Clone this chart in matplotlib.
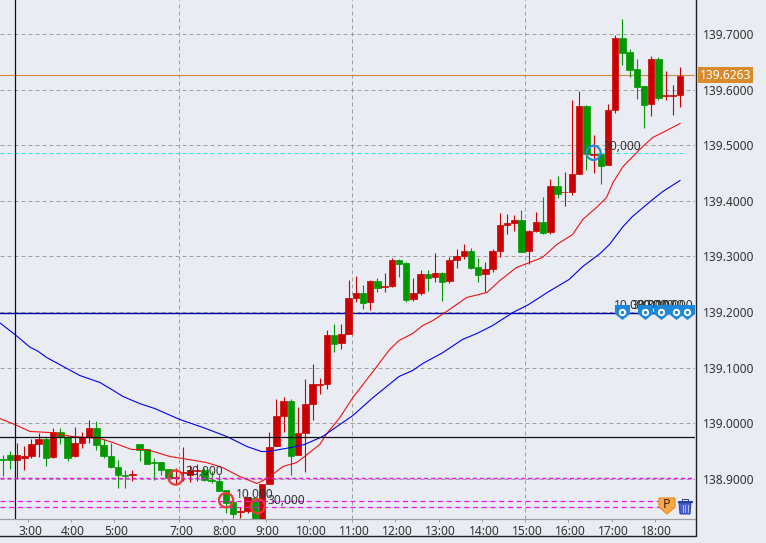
import numpy as np
import matplotlib
matplotlib.use('Agg')
import matplotlib.pyplot as plt
from matplotlib.path import Path
from matplotlib.patches import Polygon, Rectangle
from matplotlib.transforms import ScaledTranslation

plt.rcParams['font.family'] = ['Noto Sans', 'DejaVu Sans']

# 10 minute candles
opens = [138.9355, 138.9433, 138.9343, 138.9367, 138.9415, 138.9632, 138.9716, 138.9391, 138.9843, 138.9753,
         138.9403, 138.9644, 138.9753, 138.9921, 138.9614, 138.9415, 138.9217, 138.9072, 138.9066, 138.9632,
         138.9536, 138.9295, 138.9295, 138.9169, 138.9006, 138.9105, 138.9072, 138.9138, 138.9151, 138.8982,
         138.8964, 138.8801, 138.8579, 138.8404, 138.8428, 138.8651, 138.8278, 138.8910, 138.9583, 139.0122,
         139.0391, 138.9421, 138.9816, 139.0337, 139.0685, 139.0697, 139.1595, 139.1451, 139.1613, 139.2260,
         139.2350, 139.2188, 139.2565, 139.2458, 139.2476, 139.2943, 139.2889, 139.2242, 139.2350, 139.2691,
         139.2637, 139.2709, 139.2565, 139.2943, 139.3015, 139.3105, 139.2817, 139.2691, 139.2781, 139.3105,
         139.3572, 139.3608, 139.3662, 139.3105, 139.3460, 139.3622, 139.3442, 139.4270, 139.4150, 139.4162,
         139.4486, 139.5710, 139.4828, 139.4846, 139.4648, 139.5638, 139.6934, 139.6682, 139.6376, 139.6070,
         139.5746, 139.6556, 139.5878, 139.5890, 139.5908]
highs = [138.9433, 138.9494, 138.9644, 138.9584, 138.9716, 138.9825, 138.9753, 138.9915, 138.9915, 138.9795,
         138.9933, 138.9843, 139.0066, 139.0048, 138.9716, 138.9644, 138.9343, 138.9163, 138.9151, 138.9632,
         138.9536, 138.9373, 138.9295, 138.9169, 138.9193, 138.9566, 138.9253, 138.9271, 138.9193, 138.9132,
         138.9072, 138.8801, 138.8591, 138.8488, 138.8669, 138.8651, 138.8910, 138.9843, 139.0427, 139.0463,
         139.0427, 139.0283, 139.0804, 139.1056, 139.0822, 139.1685, 139.1793, 139.1793, 139.2583, 139.2655,
         139.2494, 139.2583, 139.2619, 139.2709, 139.2979, 139.2961, 139.2907, 139.2619, 139.2763, 139.2763,
         139.3069, 139.2727, 139.2997, 139.3141, 139.3230, 139.3158, 139.2979, 139.2907, 139.3141, 139.3787,
         139.3769, 139.3751, 139.3841, 139.3482, 139.3802, 139.4072, 139.4396, 139.4450, 139.4522, 139.5818,
         139.5980, 139.5728, 139.5188, 139.4846, 139.5746, 139.6988, 139.7276, 139.6736, 139.6556, 139.6070,
         139.6610, 139.6592, 139.6340, 139.6088, 139.6412]
lows = [138.9042, 138.9181, 138.9012, 138.9163, 138.9373, 138.9391, 138.9235, 138.9373, 138.9632, 138.9313,
        138.9391, 138.9554, 138.9644, 138.9512, 138.9373, 138.9193, 138.8843, 138.8831, 138.8958, 138.9325,
        138.9271, 138.8982, 138.9072, 138.9006, 138.8892, 138.8952, 138.8940, 138.8964, 138.8964, 138.8922,
        138.8789, 138.8380, 138.8290, 138.8290, 138.8380, 138.8278, 138.8278, 138.8910, 138.9583, 138.9834,
        138.9061, 138.9421, 138.9115, 139.0050, 139.0517, 139.0607, 139.1272, 139.1343, 139.1613, 139.2188,
        139.2062, 139.2044, 139.2368, 139.2368, 139.2458, 139.2637, 139.2188, 139.2206, 139.2314, 139.2386,
        139.2547, 139.2206, 139.2529, 139.2799, 139.2961, 139.2781, 139.2547, 139.2368, 139.2727, 139.2997,
        139.3410, 139.3464, 139.3087, 139.2871, 139.3442, 139.3406, 139.3406, 139.4054, 139.3910, 139.4108,
        139.4486, 139.4558, 139.4504, 139.4306, 139.4648, 139.5584, 139.6448, 139.6232, 139.5836, 139.5314,
        139.5530, 139.5818, 139.5818, 139.5548, 139.5692]
closes = [138.9343, 138.9343, 138.9433, 138.9415, 138.9632, 138.9716, 138.9367, 138.9843, 138.9753, 138.9379,
          138.9644, 138.9746, 138.9921, 138.9602, 138.9403, 138.9205, 138.9060, 138.9042, 138.9090, 138.9512,
          138.9271, 138.9277, 138.9163, 138.9006, 138.9030, 138.9115, 138.9163, 138.9163, 138.8982, 138.8952,
          138.8789, 138.8573, 138.8368, 138.8428, 138.8669, 138.8290, 138.8910, 138.9578, 139.0122, 139.0391,
          138.9403, 138.9816, 139.0337, 139.0697, 139.0697, 139.1595, 139.1433, 139.1613, 139.2260, 139.2350,
          139.2170, 139.2565, 139.2440, 139.2476, 139.2943, 139.2871, 139.2224, 139.2350, 139.2691, 139.2619,
          139.2709, 139.2547, 139.2943, 139.3015, 139.3105, 139.2799, 139.2673, 139.2781, 139.3105, 139.3572,
          139.3608, 139.3662, 139.3087, 139.3464, 139.3622, 139.3424, 139.4270, 139.4126, 139.4162, 139.4486,
          139.5710, 139.4846, 139.4846, 139.4630, 139.5638, 139.6934, 139.6664, 139.6358, 139.6052, 139.5728,
          139.6556, 139.5854, 139.5902, 139.5908, 139.6250]

# moving averages, read at these candle positions
fast_idx = [-0.4, 1.7, 3.8, 6.5, 9.6, 13.5, 15.3, 17.9, 20, 23.2, 25, 28.3, 30.5, 32.9, 35.3, 36.9, 38.9, 40.8,
            42.6, 44, 45.1, 46.8, 48.6, 51.4, 53.7, 55, 56.9, 58.3, 59.7, 61.6, 64.4, 67.2, 69, 71.3, 74.9, 76.9,
            79.1, 80.5, 82.4, 83.8, 84.7, 86.1, 88.4, 90.2, 91.6, 94]
fast_ma = [139.0084, 138.9976, 138.9851, 138.9833, 138.9761, 138.9725, 138.9653, 138.9527, 138.9527, 138.9401,
           138.9365, 138.9293, 138.9203, 138.9041, 138.8915, 138.9023, 138.9221, 138.9293, 138.9473, 138.9617,
           138.9833, 139.0102, 139.0462, 139.0930, 139.1325, 139.1487, 139.1613, 139.1757, 139.1847, 139.2009,
           139.2261, 139.2351, 139.2566, 139.2800, 139.2980, 139.3214, 139.3394, 139.3664, 139.3879, 139.4059,
           139.4329, 139.4617, 139.4923, 139.5138, 139.5228, 139.5390]
slow_idx = [-0.4, 1.7, 3.8, 4.9, 6.1, 7.9, 10.7, 13.5, 15.3, 16.7, 19, 21.1, 24.6, 27.8, 31.1, 33.9, 35.9, 36.9, 40,
            41.9, 44.4, 47.2, 48.6, 51.4, 55, 56.9, 58.3, 61.1, 63.8, 65.8, 68, 70.8, 73, 75.8, 78.6, 80.5, 82.9,
            84.2, 86.1, 87.4, 90.2, 91.6, 94]
slow_ma = [139.1806, 139.1595, 139.1367, 139.1295, 139.1182, 139.1056, 139.0858, 139.0732, 139.0593, 139.0480,
           139.0354, 139.0264, 139.0066, 138.9923, 138.9761, 138.9581, 138.9491, 138.9491, 138.9563, 138.9617,
           138.9761, 139.0013, 139.0138, 139.0462, 139.0840, 139.0948, 139.1074, 139.1271, 139.1505, 139.1613,
           139.1757, 139.1991, 139.2135, 139.2369, 139.2584, 139.2818, 139.3052, 139.3214, 139.3538, 139.3718,
           139.4023, 139.4167, 139.4365]

# axis labels
price_ticks = [138.9, 139.0, 139.1, 139.2, 139.3, 139.4, 139.5, 139.6, 139.7]
time_pos = [3.5, 9.5, 15.5, 24.5, 30.5, 36.5, 42.5, 48.5, 54.5, 60.5, 66.5, 72.5, 78.5, 84.5, 90.5]
time_labels = ['3:00', '4:00', '5:00', '7:00', '8:00', '9:00', '10:00', '11:00', '12:00', '13:00', '14:00',
               '15:00', '16:00', '17:00', '18:00']
grid_x = [24.5, 48.5, 72.5]

# executions and order pins
buy_idx = [24, 31, 35.4]
buy_price = [138.9023, 138.8615, 138.8507]
buy_label = ['30,000', '10,000', '30,000']
sell_idx = [82]
sell_price = [139.4863]
sell_label = ['30,000']
pin_idx = [86, 89.1, 91.3, 93.5, 95]
pin_price = [139.2, 139.2, 139.2, 139.2, 139.2]
pin_label = ['10,000', '30,000', '30,000', '30,000', '10,000']
pin_shift = [-8, -13, -24, -30, -31]

current_price = 139.6263
order_level = 139.1985
cross_price = 138.975
sell_level = 139.4863
stop_levels = [138.9007, 138.8598, 138.8490]

BG = '#E9ECF3'
RED = '#CC0000'
GREEN = '#009900'
GRID = '#A0A0A0'
TXT = '#333333'
W, H = 766, 543

fig = plt.figure(figsize=(W / 100, H / 100), dpi=100, facecolor=BG)
ax = fig.add_axes([0, (H - 519) / H, 695 / W, 519 / H], facecolor=BG)
ax.set_xlim(-0.37, 96.08)
ax.set_ylim(138.8277, 139.7612)

idx = np.arange(len(opens))
o = np.array(opens)
c = np.array(closes)
colors = [RED if b >= a else GREEN for a, b in zip(opens, closes)]

for v in price_ticks:
    ax.axhline(v, color=GRID, lw=0.72, ls=(0, (4, 3)), zorder=1)
for v in grid_x:
    ax.axvline(v, color=GRID, lw=0.72, ls=(0, (4, 3)), zorder=1)

ax.plot([-0.37, 94.7], [sell_level, sell_level], color='#20E8E8', lw=0.72, ls=(0, (4, 3)), zorder=1.5)
ax.axhline(current_price, color='#CE8A3A', lw=0.8, zorder=1.5)
ax.axhline(order_level, color='#0000A8', lw=1.0, zorder=1.5)

ax.vlines(idx, lows, highs, colors=colors, lw=0.8, zorder=3)
ax.bar(idx, np.abs(c - o), bottom=np.minimum(o, c), width=0.9, color=colors, edgecolor=colors, lw=0.5, zorder=3)

ax.plot(fast_idx, fast_ma, color='#F01010', lw=0.8, zorder=4)
ax.plot(slow_idx, slow_ma, color='#0000F0', lw=0.8, zorder=4)

ax.axhline(cross_price, color='#111111', lw=0.9, zorder=5)
ax.axvline(1.67, color='#111111', lw=0.9, zorder=5)
ax.plot([-0.37, 91.5], [stop_levels[1], stop_levels[1]], color='#F010F0', lw=0.9, ls=(0, (4, 3)), zorder=5)
ax.plot([-0.37, 91.5], [stop_levels[2], stop_levels[2]], color='#F010F0', lw=0.9, ls=(0, (4, 3)), zorder=5)
ax.plot([-0.37, 96.08], [stop_levels[0], stop_levels[0]], color='#F010F0', lw=1.0, ls=(0, (3, 2)), zorder=5)

ax.scatter(buy_idx, buy_price, s=105, facecolors='none', edgecolors='#F03838', linewidths=1.6, zorder=6)
ax.scatter(sell_idx, sell_price, s=105, facecolors='none', edgecolors='#2288E0', linewidths=1.6, zorder=6)
for x, p, t in zip(buy_idx + sell_idx, buy_price + sell_price, buy_label + sell_label):
    ax.annotate(t, (x, p), xytext=(10, 6), textcoords='offset pixels', fontsize=8.64, color=TXT,
                va='center', ha='left', zorder=7)

pin = Path([(-1, 1), (1, 1), (1, -0.2), (0, -1), (-1, -0.2), (-1, 1)], closed=True)
ax.scatter(pin_idx, pin_price, marker=pin, s=117, color='#1E88D8', linewidths=0, zorder=7, clip_on=False)
ax.scatter(pin_idx, pin_price, s=28, color='white', linewidths=0, zorder=8, clip_on=False)
ax.scatter(pin_idx, pin_price, s=6, color='#1E88D8', linewidths=0, zorder=9, clip_on=False)
for x, p, t, d in zip(pin_idx, pin_price, pin_label, pin_shift):
    ax.annotate(t, (x, p), xytext=(d, 7), textcoords='offset pixels', fontsize=8.64, color=TXT,
                va='center', ha='left', zorder=6.5, annotation_clip=False)

ax.yaxis.tick_right()
ax.set_yticks(price_ticks, [f'{v:.4f}' for v in price_ticks])
ax.set_xticks(time_pos, time_labels)
ax.tick_params(axis='y', length=0, pad=5.8, labelsize=8.64, labelcolor=TXT)
ax.tick_params(axis='x', length=2, width=0.72, color=GRID, pad=2.4, labelsize=8.64, labelcolor=TXT)
for lb in ax.get_xticklabels():
    lb.set_transform(lb.get_transform() + ScaledTranslation(2 / 100, 0, fig.dpi_scale_trans))
for s in ['top', 'left', 'right']:
    ax.spines[s].set_visible(False)
ax.spines['bottom'].set_color(GRID)
ax.spines['bottom'].set_linewidth(0.9)

ax.text(1.007, current_price, f'{current_price:.4f}', transform=ax.get_yaxis_transform(), fontsize=8.64, color='white',
        va='center', ha='left', zorder=10,
        bbox=dict(boxstyle='square,pad=0.13', facecolor='#D98B2B', edgecolor='none'), clip_on=False)

# window frame and the two small icons, in screen pixels
ui = fig.add_axes([0, 0, 1, 1], facecolor='none')
ui.set_xlim(0, W)
ui.set_ylim(H, 0)
ui.axis('off')
ui.plot([695.5, 695.5, 0], [0, 536, 536], color='#222222', lw=1.0)
ui.add_patch(Polygon([(659, 498), (675, 498), (675, 507), (667, 514), (659, 507)], closed=True,
                     facecolor='#F7A84A', edgecolor='#E88A1C', lw=0.8))
ui.text(667, 505, 'P', fontsize=9, fontweight='bold', color='#4A2200', ha='center', va='center')
ui.add_patch(Rectangle((677.5, 500.5), 15, 2.5, facecolor='#2A3FA8', edgecolor='none'))
ui.add_patch(Rectangle((682, 498.5), 6, 2, facecolor='none', edgecolor='#2A3FA8', lw=0.7))
ui.add_patch(Polygon([(679, 503), (691, 503), (690, 514), (680, 514)], closed=True, facecolor='#4A60D0',
                     edgecolor='#2A3FA8', lw=0.7))
for xp in [682.5, 685, 687.5]:
    ui.plot([xp, xp], [505, 512], color='#C8D0F0', lw=0.6)

fig.savefig('out.png', dpi=100, facecolor=BG)
